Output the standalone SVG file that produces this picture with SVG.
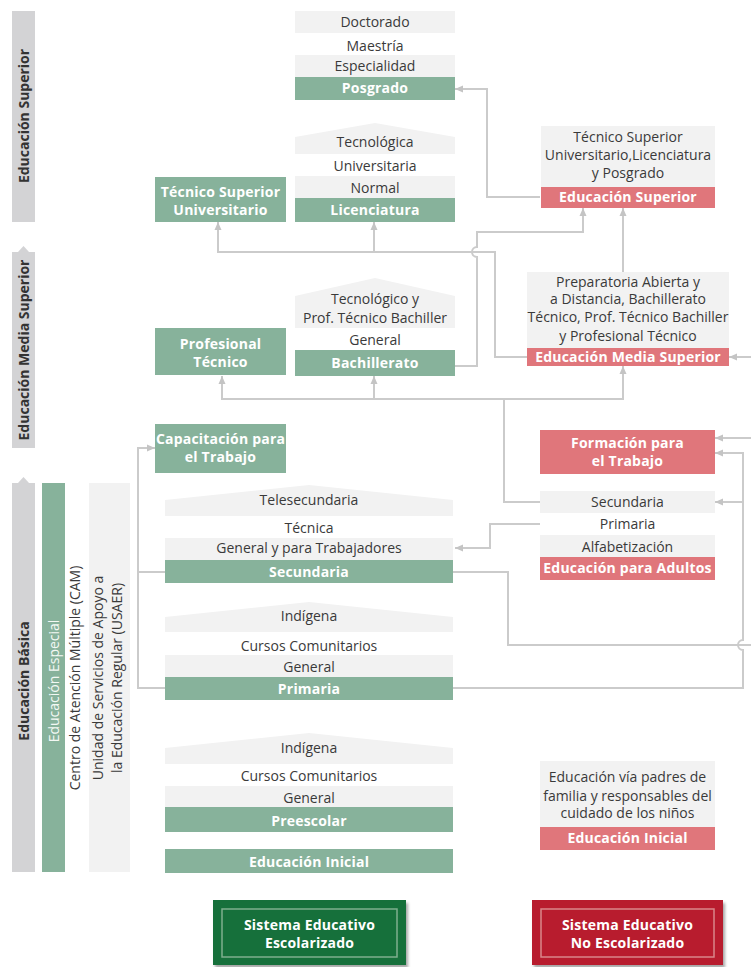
<svg xmlns="http://www.w3.org/2000/svg" width="751" height="967" viewBox="0 0 751 967">
<defs>
<style>
.g{fill:#87b29b}
.r{fill:#e0767b}
.l{fill:#f2f2f2}
.sb{fill:#d3d3d5}
.t{font-family:'Open Sans','Noto Sans','Liberation Sans',sans-serif;font-size:14px;fill:#3a3a3a;text-anchor:middle}
.w{font-weight:bold;fill:#ffffff;letter-spacing:0.2px}
.sl{font-weight:bold;fill:#333333;font-size:14px}
.c{fill:none;stroke:#cbcbcb;stroke-width:2}
.a{marker-end:url(#ar)}
</style>
<marker id="ar" viewBox="0 0 8 8" refX="8" refY="4" markerWidth="8" markerHeight="8" markerUnits="userSpaceOnUse" orient="auto">
<path d="M0,0.5 L8,4 L0,7.5 z" fill="#c4c4c4"/>
</marker>
<filter id="sh" x="-10%" y="-10%" width="120%" height="130%">
<feDropShadow dx="2" dy="3" stdDeviation="1.5" flood-color="#000" flood-opacity="0.35"/>
</filter>
</defs>
<rect width="751" height="967" fill="#ffffff"/>

<g id="connectors">
<path class="c a" d="M540,197 H487 V89 H455"/>
<path class="c a" d="M527,357 H495 V252 H218 V222"/>
<path class="c a" d="M374,252 V222"/>
<path class="c a" d="M455,366 H477 V257 A5,5 0 0 1 477,247 V232 H583 V208"/>
<path class="c a" d="M623,272 V208"/>
<path class="c a" d="M540,502 H504 V399 H222 V376"/>
<path class="c a" d="M374,399 V376"/>
<path class="c a" d="M504,399 H623 V366"/>
<path class="c a" d="M540,524 H490 V548 H455"/>
<path class="c a" d="M165,572 H138 V448 H155"/>
<path class="c" d="M165,688 H138 V572"/>
<path class="c" d="M453,572 H508 V645 H751"/>
<path class="c a" d="M453,688 H743 V650 A5,5 0 0 1 743,640 V453 H715"/>
<path class="c a" d="M743,502 H715"/>
<path class="c a" d="M751,438 H715"/>
<path class="c a" d="M751,357 H729"/>
</g>

<g id="bar-superior">
<rect class="sb" x="12" y="11" width="23" height="211"/>
<text class="t sl" transform="translate(28.5,116) rotate(-90)">Educación Superior</text>
</g>
<g id="bar-media-superior">
<path class="sb" d="M12,252 H18 L23.5,246 L29,252 H35 V448 H12 Z"/>
<text class="t sl" transform="translate(28.5,350) rotate(-90)">Educación Media Superior</text>
</g>
<g id="bar-basica">
<path class="sb" d="M12,483 H18 L23.5,477 L29,483 H35 V872 H12 Z"/>
<text class="t sl" transform="translate(28.5,681) rotate(-90)">Educación Básica</text>
</g>
<g id="bar-especial">
<rect class="g" x="42" y="483" width="23" height="389"/>
<text class="t" style="fill:#f3f8f4" transform="translate(58.5,681) rotate(-90)">Educación Especial</text>
</g>
<g id="cam">
<text class="t" transform="translate(80,678) rotate(-90)">Centro de Atención Múltiple (CAM)</text>
</g>
<g id="usaer">
<rect class="l" x="89" y="483" width="41" height="389"/>
<text class="t" transform="translate(103,678) rotate(-90)">Unidad de Servicios de Apoyo a</text>
<text class="t" transform="translate(121.5,678) rotate(-90)">la Educación Regular (USAER)</text>
</g>

<g id="posgrado">
<rect class="l" x="295" y="11" width="160" height="22"/>
<text class="t" x="375" y="27">Doctorado</text>
<text class="t" x="375" y="51">Maestría</text>
<rect class="l" x="295" y="55" width="160" height="22"/>
<text class="t" x="375" y="70.5">Especialidad</text>
<rect class="g" x="295" y="77" width="160" height="23"/>
<text class="t w" x="375" y="93">Posgrado</text>
</g>

<g id="licenciatura">
<path class="l" d="M295,137 L375,123 L455,137 V154 H295 Z"/>
<text class="t" x="375" y="146.5">Tecnológica</text>
<text class="t" x="375" y="170.5">Universitaria</text>
<rect class="l" x="295" y="176" width="160" height="22"/>
<text class="t" x="375" y="192.5">Normal</text>
<rect class="g" x="295" y="198" width="160" height="24"/>
<text class="t w" x="375" y="215">Licenciatura</text>
</g>

<g id="tecnico-superior">
<rect class="g" x="155" y="177" width="131" height="45"/>
<text class="t w" x="220.5" y="196.5">Técnico Superior</text>
<text class="t w" x="220.5" y="215">Universitario</text>
</g>

<g id="educacion-superior-ne">
<rect class="l" x="541" y="126" width="174" height="61"/>
<text class="t" x="628" y="141.5">Técnico Superior</text>
<text class="t" x="628" y="160">Universitario,Licenciatura</text>
<text class="t" x="628" y="178">y Posgrado</text>
<rect class="r" x="541" y="187" width="174" height="21"/>
<text class="t w" x="628" y="202">Educación Superior</text>
</g>

<g id="bachillerato">
<path class="l" d="M295,296 L375,278 L455,296 V328 H295 Z"/>
<text class="t" x="375" y="303.5">Tecnológico y</text>
<text class="t" x="375" y="322.5">Prof. Técnico Bachiller</text>
<text class="t" x="375" y="345">General</text>
<rect class="g" x="295" y="350" width="160" height="26"/>
<text class="t w" x="375" y="368">Bachillerato</text>
</g>

<g id="profesional-tecnico">
<rect class="g" x="155" y="328" width="131" height="47"/>
<text class="t w" x="220.5" y="349">Profesional</text>
<text class="t w" x="220.5" y="367">Técnico</text>
</g>

<g id="educacion-media-superior-ne">
<rect class="l" x="527" y="272" width="202" height="76"/>
<text class="t" x="628" y="286.5">Preparatoria Abierta y</text>
<text class="t" x="628" y="304">a Distancia, Bachillerato</text>
<text class="t" x="628" y="322">Técnico, Prof. Técnico Bachiller</text>
<text class="t" x="628" y="340.5">y Profesional Técnico</text>
<rect class="r" x="527" y="348" width="202" height="18"/>
<text class="t w" x="628" y="362">Educación Media Superior</text>
</g>

<g id="capacitacion">
<rect class="g" x="155" y="424" width="131" height="49"/>
<text class="t w" x="220.5" y="444">Capacitación para</text>
<text class="t w" x="220.5" y="462">el Trabajo</text>
</g>

<g id="formacion">
<rect class="r" x="540" y="430" width="175" height="44"/>
<text class="t w" x="627.5" y="447.5">Formación para</text>
<text class="t w" x="627.5" y="465.5">el Trabajo</text>
</g>

<g id="adultos">
<rect class="l" x="540" y="491" width="175" height="22"/>
<text class="t" x="627.5" y="507">Secundaria</text>
<text class="t" x="627.5" y="529">Primaria</text>
<rect class="l" x="540" y="535" width="175" height="22"/>
<text class="t" x="627.5" y="552">Alfabetización</text>
<rect class="r" x="540" y="557" width="175" height="23"/>
<text class="t w" x="627.5" y="573">Educación para Adultos</text>
</g>

<g id="secundaria">
<path class="l" d="M165,500 L309,485 L453,500 V516 H165 Z"/>
<text class="t" x="309" y="505">Telesecundaria</text>
<text class="t" x="309" y="533">Técnica</text>
<rect class="l" x="165" y="538" width="288" height="22"/>
<text class="t" x="309" y="553">General y para Trabajadores</text>
<rect class="g" x="165" y="560" width="288" height="23"/>
<text class="t w" x="309" y="577">Secundaria</text>
</g>

<g id="primaria">
<path class="l" d="M165,617 L309,602 L453,617 V632 H165 Z"/>
<text class="t" x="309" y="621">Indígena</text>
<text class="t" x="309" y="651">Cursos Comunitarios</text>
<rect class="l" x="165" y="655" width="288" height="22"/>
<text class="t" x="309" y="672">General</text>
<rect class="g" x="165" y="677" width="288" height="23"/>
<text class="t w" x="309" y="694">Primaria</text>
</g>

<g id="preescolar">
<path class="l" d="M165,748 L309,733 L453,748 V764 H165 Z"/>
<text class="t" x="309" y="753">Indígena</text>
<text class="t" x="309" y="781">Cursos Comunitarios</text>
<rect class="l" x="165" y="786" width="288" height="21"/>
<text class="t" x="309" y="802.5">General</text>
<rect class="g" x="165" y="807" width="288" height="25"/>
<text class="t w" x="309" y="825.5">Preescolar</text>
</g>

<g id="educacion-inicial">
<rect class="g" x="165" y="849" width="288" height="24"/>
<text class="t w" x="309" y="867">Educación Inicial</text>
</g>

<g id="educacion-inicial-ne">
<rect class="l" x="540" y="761" width="175" height="66"/>
<text class="t" x="627.5" y="782">Educación vía padres de</text>
<text class="t" x="627.5" y="800.5">familia y responsables del</text>
<text class="t" x="627.5" y="818">cuidado de los niños</text>
<rect class="r" x="540" y="827" width="175" height="23"/>
<text class="t w" x="627.5" y="843">Educación Inicial</text>
</g>

<g id="sistema-escolarizado">
<rect x="213" y="900" width="193" height="65" fill="#17703b" filter="url(#sh)"/>
<rect x="222" y="909" width="175" height="48" fill="none" stroke="#7fae8f" stroke-width="1.5"/>
<text class="t w" x="309.5" y="930">Sistema Educativo</text>
<text class="t w" x="309.5" y="947.5">Escolarizado</text>
</g>

<g id="sistema-no-escolarizado">
<rect x="532" y="900" width="191" height="65" fill="#b81f2d" filter="url(#sh)"/>
<rect x="541" y="909" width="173" height="48" fill="none" stroke="#d9868b" stroke-width="1.5"/>
<text class="t w" x="627.5" y="930">Sistema Educativo</text>
<text class="t w" x="627.5" y="947.5">No Escolarizado</text>
</g>
</svg>
